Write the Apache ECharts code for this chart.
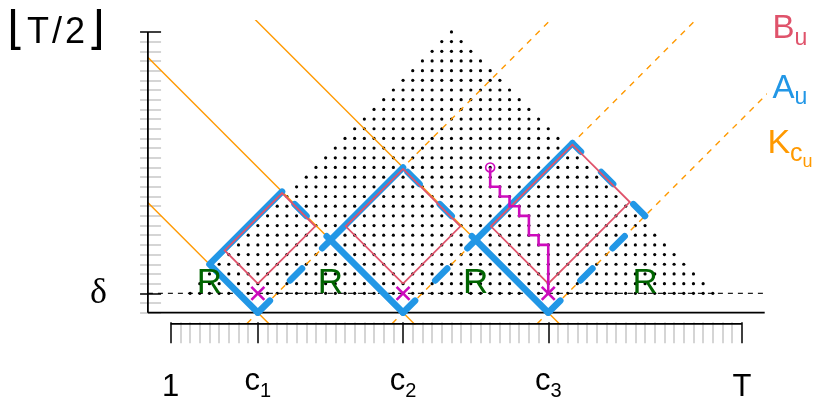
<!DOCTYPE html>
<html><head><meta charset="utf-8">
<script src="https://cdn.jsdelivr.net/npm/echarts@6/dist/echarts.min.js"></script>
<style>html,body{margin:0;padding:0;background:#fff}#c{width:813px;height:405px}</style>
</head><body><div id="c"></div>
<script>
// ---------- data ----------
const T = 60;            // horizon
const halfT = 30;        // floor(T/2)
const delta = 3;         // δ
const cuts = [10, 25, 40];                       // c1, c2, c3
const xMajor = [1, 10, 25, 40, 60];              // 1, c1, c2, c3, T
const xMajorLabels = ['{p|1}', '{m|c}{s|1}', '{m|c}{s|2}', '{m|c}{s|3}', '{p|T}'];
const yMajor = [3, 30];                          // δ, ⌊T/2⌋
const yMajorLabels = ['{d|δ}', '{b|⌊}{f|T}{g|/}{f|2}{b|⌋}'];
const regionX = [5, 17.5, 32.5, 50];             // "R" labels
const regionY = 4;
const walkX = [34, 34, 35, 35, 36, 36, 37, 37, 38, 38, 39, 39, 40, 40];
const walkY = [16, 14, 14, 13, 13, 12, 12, 11, 11, 9, 9, 8, 8, 3];

// ---------- derived ----------
const X_MIN = 1 - 0.04 * (T - 1), X_MAX = T + 0.04 * (T - 1);
const Y_MIN = 1 - 0.04 * (halfT - 1), Y_MAX = halfT + 0.04 * (halfT - 1);
const lattice = [];
for (let y = delta; y <= halfT; y++) for (let x = y; x <= T - y; x++) lattice.push([x, y]);
const xMinor = [], yMinor = [];
for (let i = 1; i <= T; i++) if (!xMajor.includes(i)) xMinor.push(i);
for (let i = 1; i <= halfT; i++) if (!yMajor.includes(i)) yMinor.push(i);
const bounds = [0, ...cuts, T];
const sd = (s, d) => [(s - d) / 2, (s + d) / 2];   // rotated coords -> (x, y)

const BLUE = '#2297E6', PINK = '#DF536B', ORANGE = '#FF9900', MAG = '#CD0BBC', GREEN = '#006400';
const FONT = '"Liberation Sans", Arial, "DejaVu Sans", sans-serif';

const series = [];
const line = (data, style, z, extra) => Object.assign({
  type: 'line', data, symbol: 'none', showSymbol: false, silent: true, animation: false,
  lineStyle: style, z
}, extra || {});

// lattice dots
series.push({type: 'scatter', data: lattice, symbolSize: 3.2, itemStyle: {color: '#000', opacity: 1}, silent: true, animation: false, z: 1});

// orange K lines
cuts.forEach(c => {
  series.push(line([[c + 2, -1], [-3, c + 4]], {color: ORANGE, width: 1.4}, 2));
  series.push(line([[c - 2, -1], [c + 40, 41]], {color: ORANGE, width: 1.4, type: [6, 6]}, 2));
});

// delta line
series.push(line([[X_MIN, delta], [X_MAX, delta]], {color: '#000', width: 1.1, type: [5, 5]}, 2));

// frame lines
series.push(line([[X_MIN, 1], [X_MAX, 1]], {color: '#000', width: 1.8}, 3, {clip: false}));
series.push(line([[X_MIN, 1], [X_MIN, halfT]], {color: '#000', width: 1.8}, 3, {clip: false}));
series.push(line([[1, Y_MIN], [T, Y_MIN]], {color: '#000', width: 1.6}, 3, {clip: false}));

// A_u (blue) and B_u (pink)
const inset = 0.15;
for (let i = 1; i < bounds.length - 1; i++) {
  const c = bounds[i], cPrev = bounds[i - 1], cNext = bounds[i + 1];
  const sLo = c + 1, sHi = cNext + 1, dLo = 1 - c, dHi = 1 - cPrev;
  series.push(line([sd(sLo, dLo), sd(sLo, dHi), sd(sHi, dHi)],
    {color: BLUE, width: 6.5, cap: 'round', join: 'round'}, 4));
  series.push(line([sd(sLo, dLo), sd(sHi, dLo), sd(sHi, dHi)],
    {color: BLUE, width: 6.5, cap: 'round', join: 'round', type: [17, 28.5]}, 4));
  const a = sLo + delta, b = sHi - inset, e = dLo + delta, f = dHi - inset;
  series.push(line([sd(a, e), sd(a, f), sd(b, f), sd(b, e), sd(a, e)],
    {color: PINK, width: 1.8, join: 'miter'}, 5));
}

// magenta walk
series.push(line(walkX.map((x, k) => [x, walkY[k]]), {color: MAG, width: 2.6, join: 'miter'}, 6));
series.push({type: 'scatter', data: [[walkX[0], walkY[0]]], symbol: 'circle', symbolSize: 9,
  itemStyle: {color: 'rgba(0,0,0,0)', borderColor: MAG, borderWidth: 1.6, opacity: 1}, silent: true, animation: false, z: 6});
series.push({type: 'scatter', data: cuts.map(c => [c, delta]), symbol: 'path://M0 0L10 10M10 0L0 10',
  symbolSize: 13, itemStyle: {color: 'none', borderColor: MAG, borderWidth: 2.6, opacity: 1}, silent: true, animation: false, z: 6});

// R labels
series.push({type: 'scatter', data: regionX.map(x => [x, regionY]), symbolSize: 0, silent: true, animation: false, z: 7,
  itemStyle: {opacity: 1},
  label: {show: true, position: 'inside', formatter: 'R', color: GREEN, fontSize: 35, fontFamily: FONT,
    textBorderWidth: 0, textBorderColor: 'transparent', opacity: 1}});

const baseAxis = {type: 'value', splitLine: {show: false}, axisLine: {show: false}};
const option = {
  animation: false,
  backgroundColor: '#fff',
  textStyle: {fontFamily: FONT},
  grid: {left: 147.9, top: 20.7, width: 616.8, height: 303.2, containLabel: false},
  xAxis: [
    Object.assign({}, baseAxis, {min: X_MIN, max: X_MAX, position: 'bottom',
      axisTick: {show: true, length: 21, customValues: xMinor, lineStyle: {color: '#c8c8c8', width: 1.5}},
      axisLabel: {show: false}}),
    Object.assign({}, baseAxis, {min: X_MIN, max: X_MAX, position: 'bottom',
      axisTick: {show: true, length: 21, customValues: xMajor, lineStyle: {color: '#000', width: 1.5}},
      axisLabel: {show: true, customValues: xMajor, margin: 42.5, verticalAlign: 'top',
        formatter: v => xMajorLabels[xMajor.indexOf(v)],
        rich: {
          p: {fontSize: 31, color: '#000', fontFamily: FONT, verticalAlign: 'top', padding: [5.6, 0, 0, 0]},
          m: {fontSize: 31, color: '#000', fontFamily: FONT, verticalAlign: 'top'},
          s: {fontSize: 20, color: '#000', fontFamily: FONT, verticalAlign: 'top', padding: [14.9, 0, 0, 0]}
        }}})
  ],
  yAxis: [
    Object.assign({}, baseAxis, {min: Y_MIN, max: Y_MAX, position: 'left',
      axisTick: {show: true, length: 21, customValues: yMinor, lineStyle: {color: '#c8c8c8', width: 1.5}},
      axisLabel: {show: false}}),
    Object.assign({}, baseAxis, {min: Y_MIN, max: Y_MAX, position: 'left',
      axisTick: {show: true, length: 21, customValues: yMajor, lineStyle: {color: '#000', width: 1.5}},
      axisLabel: {show: true, customValues: yMajor, margin: 41,
        formatter: v => yMajorLabels[yMajor.indexOf(v)],
        rich: {
          d: {fontSize: 36, color: '#000', fontFamily: '"Liberation Serif", "DejaVu Serif", serif'},
          b: {fontSize: 46, color: '#000', fontFamily: '"DejaVu Sans ExtraLight", "DejaVu Sans", sans-serif', padding: [0, 2, 0, 2]},
          f: {fontSize: 36, color: '#000', fontFamily: FONT, padding: [2, 0, 0, 0]},
          g: {fontSize: 36, color: '#000', fontFamily: FONT, padding: [2, 3, 0, 3]}
        }}})
  ],
  series,
  graphic: [
    {type: 'text', x: 790, y: 12.8, z: 10, silent: true, style: {text: '{m|B}{s|u}', align: 'center', verticalAlign: 'top',
      rich: {m: {fontSize: 33, fill: PINK, fontFamily: FONT, verticalAlign: 'top'},
             s: {fontSize: 23, fill: PINK, fontFamily: FONT, verticalAlign: 'top', padding: [14.5, 0, 0, 0]}}}},
    {type: 'text', x: 790, y: 72, z: 10, silent: true, style: {text: '{m|A}{s|u}', align: 'center', verticalAlign: 'top',
      rich: {m: {fontSize: 33, fill: BLUE, fontFamily: FONT, verticalAlign: 'top'},
             s: {fontSize: 23, fill: BLUE, fontFamily: FONT, verticalAlign: 'top', padding: [14.5, 0, 0, 0]}}}},
    {type: 'text', x: 790, y: 126.2, z: 10, silent: true, style: {text: '{m|K}{s|c}{t|u}', align: 'center', verticalAlign: 'top',
      rich: {m: {fontSize: 34, fill: ORANGE, fontFamily: FONT, verticalAlign: 'top'},
             s: {fontSize: 25, fill: ORANGE, fontFamily: FONT, verticalAlign: 'top', padding: [15.6, 0, 0, 0]},
             t: {fontSize: 18, fill: ORANGE, fontFamily: FONT, verticalAlign: 'top', padding: [26.9, 0, 0, 0]}}}}
  ]
};
option.series.forEach(s => { s.xAxisIndex = 0; s.yAxisIndex = 0; });
const chart = echarts.init(document.getElementById('c'));
chart.setOption(option);
</script></body></html>
